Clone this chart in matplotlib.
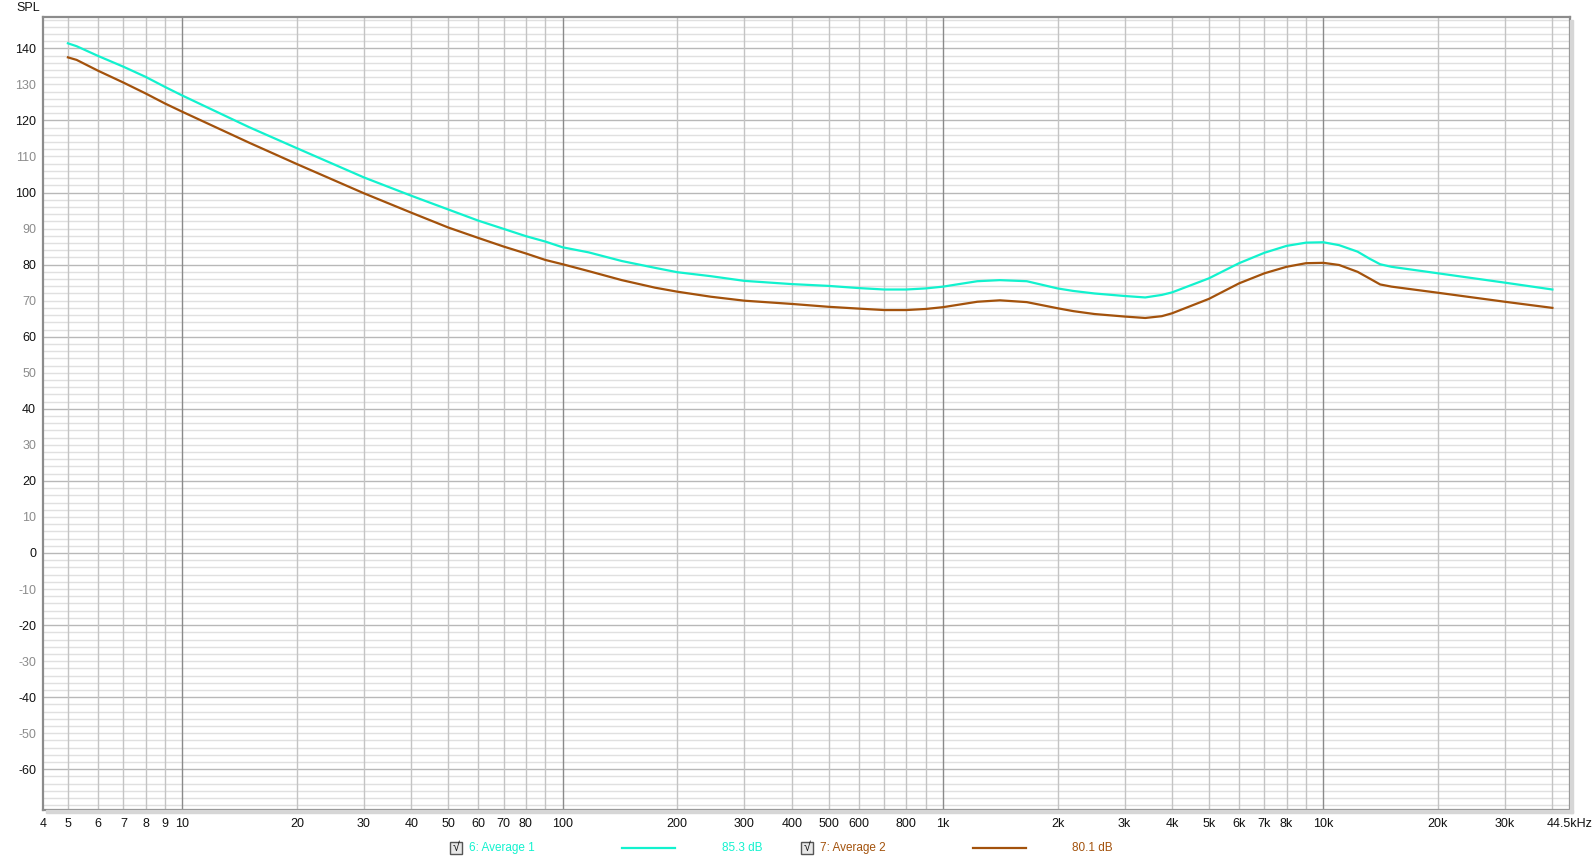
import matplotlib
matplotlib.use('Agg')
import matplotlib.pyplot as plt
from matplotlib.patches import Rectangle
from matplotlib.lines import Line2D

W, H = 1592, 863
_DPI = 100

# frequency (Hz) and SPL (dB)
freq = [5, 5.27, 6, 7, 8, 9, 10, 15, 20, 30, 40, 50, 60, 70, 80, 90, 100, 117,
        143, 175, 200, 245, 300, 400, 500, 600, 700, 800, 900, 1000, 1230, 1410,
        1660, 2000, 2200, 2500, 3000, 3400, 3760, 4000, 5000, 6000, 7000, 8000,
        9000, 10000, 11000, 12300, 13200, 14100, 15100, 20000, 30000, 40000]
avg1 = [141.4, 140.6, 137.9, 134.9, 132.1, 129.3, 126.9, 118.1, 112.3, 104.2,
        99.1, 95.3, 92.2, 89.9, 87.9, 86.4, 84.8, 83.4, 81.0, 79.1, 77.9, 76.8,
        75.5, 74.6, 74.1, 73.5, 73.1, 73.1, 73.4, 73.9, 75.4, 75.7, 75.4, 73.4,
        72.7, 72.0, 71.3, 70.9, 71.6, 72.3, 76.2, 80.4, 83.3, 85.2, 86.1, 86.2,
        85.4, 83.6, 81.7, 80.1, 79.4, 77.6, 75.0, 73.1]
avg2 = [137.5, 136.8, 133.8, 130.5, 127.5, 124.7, 122.4, 113.8, 107.9, 99.8,
        94.4, 90.3, 87.4, 85.0, 83.1, 81.3, 80.1, 78.2, 75.7, 73.6, 72.5, 71.1,
        70.0, 69.1, 68.3, 67.8, 67.4, 67.4, 67.7, 68.2, 69.7, 70.1, 69.6, 67.9,
        67.1, 66.3, 65.6, 65.2, 65.7, 66.5, 70.5, 74.8, 77.6, 79.4, 80.4, 80.5,
        79.9, 78.0, 76.2, 74.5, 73.9, 72.2, 69.7, 68.0]

series_names = ['6: Average 1', '7: Average 2']
series_levels = ['85.3 dB', '80.1 dB']
series_colors = ['#12F2CE', '#A3520C']

x_ticks = [4.3, 5, 6, 7, 8, 9, 10, 20, 30, 40, 50, 60, 70, 80, 100, 200, 300,
           400, 500, 600, 800, 1000, 2000, 3000, 4000, 5000, 6000, 7000, 8000,
           10000, 20000, 30000, 44500]
x_labels = ['4', '5', '6', '7', '8', '9', '10', '20', '30', '40', '50', '60',
            '70', '80', '100', '200', '300', '400', '500', '600', '800', '1k',
            '2k', '3k', '4k', '5k', '6k', '7k', '8k', '10k', '20k', '30k',
            '44.5kHz']
y_ticks = list(range(-60, 141, 10))

plt.rcParams['font.family'] = ['Liberation Sans', 'DejaVu Sans']

fig = plt.figure(figsize=(W / _DPI, H / _DPI), dpi=_DPI)
fig.patch.set_facecolor('white')
ax = fig.add_axes([43 / W, 1 - 810 / H, (1570 - 43) / W, (810 - 17) / H])
ax.set_xscale('log')
ax.set_xlim(4.3, 44500)
ax.set_ylim(-71.3, 148.7)

# grid
for dec in [1, 10, 100, 1000, 10000]:
  for m in range(1, 10):
    f = dec * m
    if f < 4.3 or f > 44500:
      continue
    c = '#8a8a8a' if m == 1 else '#c4c4c4'
    ax.axvline(f, color=c, lw=1.0, zorder=1)
for v in range(-70, 149, 2):
  c = '#b8b8b8' if v % 20 == 0 else '#e0e0e0'
  ax.axhline(v, color=c, lw=1.0, zorder=0.9)

ax.plot(freq, avg1, color=series_colors[0], lw=1.6, zorder=3)
ax.plot(freq, avg2, color=series_colors[1], lw=1.6, zorder=3)

ax.set_xticks(x_ticks)
ax.set_xticklabels(x_labels)
ax.xaxis.set_minor_locator(matplotlib.ticker.NullLocator())
ax.set_yticks(y_ticks)
ax.set_yticklabels([str(v) for v in y_ticks])
ax.tick_params(axis='both', length=0, labelsize=9, colors='#111111')
ax.tick_params(axis='x', pad=6)
ax.tick_params(axis='y', pad=5)
for lab, v in zip(ax.get_yticklabels(), y_ticks):
  lab.set_color('#111111' if v % 20 == 0 else '#8c8c8c')

for s in ax.spines.values():
  s.set_color('#8c8c8c')
  s.set_linewidth(1.6)

# soft shadow round the frame
fig.patches.append(Rectangle((1570 / W, 1 - 813 / H), 3 / W, (813 - 20) / H,
                             transform=fig.transFigure, color='#d6d6d6', zorder=0))
fig.patches.append(Rectangle((46 / W, 1 - 813 / H), (1573 - 46) / W, 3 / H,
                             transform=fig.transFigure, color='#d6d6d6', zorder=0))

fig.text(16 / W, 1 - 8 / H, 'SPL', fontsize=9, color='#111111', va='center', ha='left')

# legend row
ly = 1 - 848 / H
box_x = [450, 801]
name_x = [469, 820]
line_x = [622, 973]
level_x = [722, 1072]
for i, (name, lvl, col) in enumerate(zip(series_names, series_levels, series_colors)):
  x0 = box_x[i]
  fig.patches.append(Rectangle((x0 / W, 1 - 854 / H), 12 / W, 12 / H,
                               transform=fig.transFigure, facecolor='#e8e8e8',
                               edgecolor='#555555', lw=1.0))
  fig.text((x0 + 6) / W, ly, '\u221a', fontsize=9, color='#111111', ha='center', va='center')
  fig.text(name_x[i] / W, ly, name, fontsize=8.5, color=col, ha='left', va='center')
  lx = line_x[i]
  fig.lines.append(Line2D([lx / W, (lx + 53) / W], [ly, ly], transform=fig.transFigure,
                          color=col, lw=1.6))
  fig.text(level_x[i] / W, ly, lvl, fontsize=8.5, color=col, ha='left', va='center')

fig.savefig('out.png', dpi=_DPI)
